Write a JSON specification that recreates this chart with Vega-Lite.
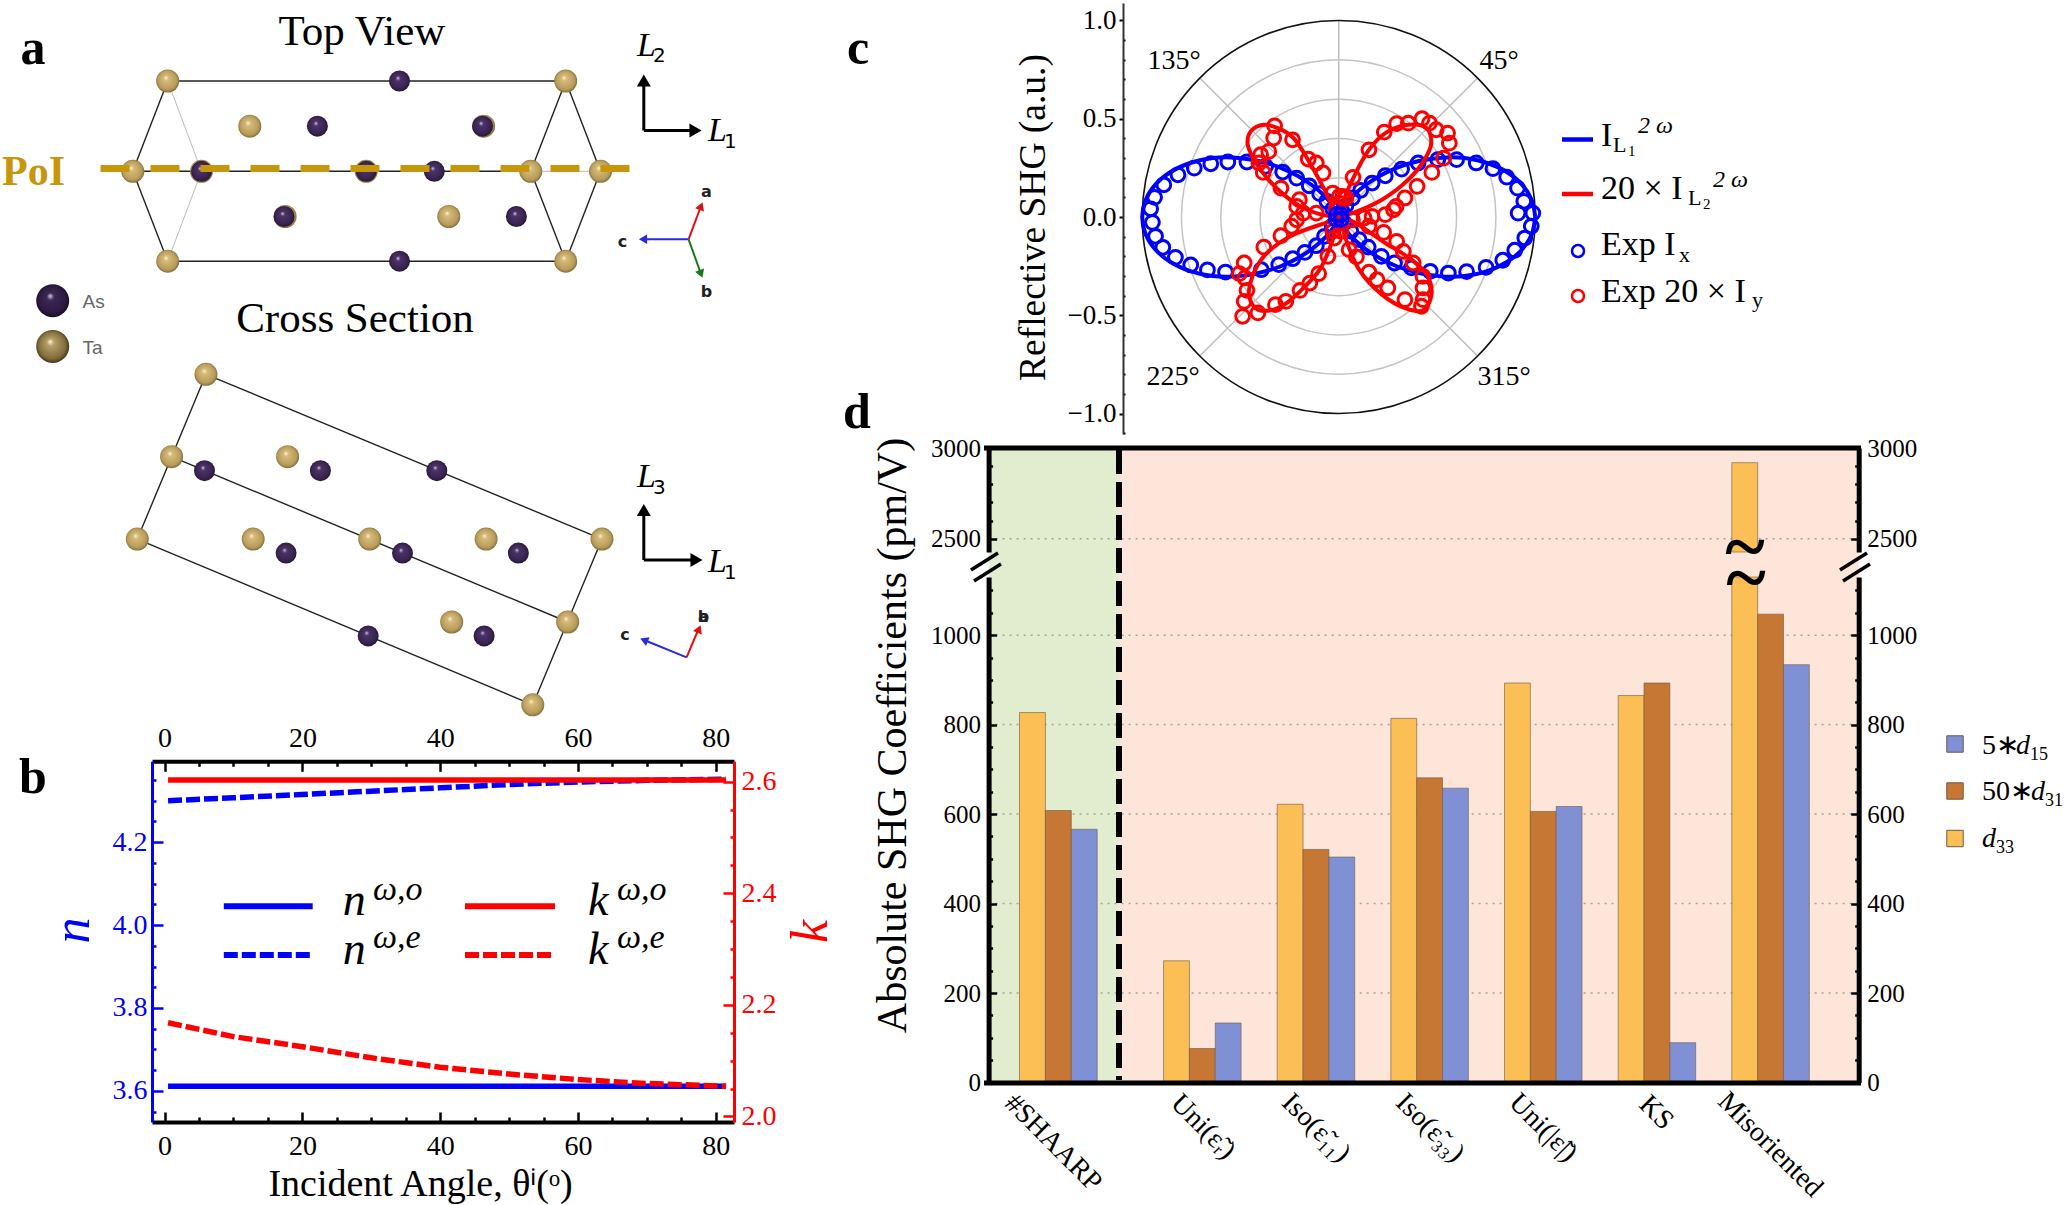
{"$schema":"https://vega.github.io/schema/vega-lite/v6.json","width":2064,"height":1205,"padding":0,"autosize":{"type":"none"},"background":"white",
"config":{"view":{"stroke":null},"axis":{"grid":false,"labelFont":"Liberation Serif","titleFont":"Liberation Serif","titleFontWeight":"normal","labelOverlap":false,"labelBound":false,"labelFlush":false,"labelColor":"black","tickColor":"black","domainColor":"black"},"text":{"font":"Liberation Serif","baseline":"alphabetic"}},
"resolve":{"scale":{"x":"independent","y":"independent","xOffset":"independent"},"axis":{"x":"independent","y":"independent"}},
"layer":[
{"data":{"values":[{"u":98.86,"u2":111.9,"v":44.75,"v2":108.3,"region":"known"},{"u":111.9,"u2":185.87,"v":44.75,"v2":108.3,"region":"theory"}]},
 "mark":{"type":"rect"},
 "encoding":{"x":{"field":"u","type":"quantitative","scale":{"domain":[0,206.4],"range":[0,2064]},"axis":null},"x2":{"field":"u2"},"y":{"field":"v","type":"quantitative","scale":{"domain":[0,120.5],"range":[0,1205]},"axis":null},"y2":{"field":"v2"},"fill":{"field":"region","type":"nominal","scale":{"domain":["known","theory"],"range":["#e2edcf","#fde6d9"]},"legend":null}}},
{"data":{"values":[{"g":200},{"g":400},{"g":600},{"g":800},{"g":1000}]},
 "mark":{"type":"rule","color":"#a9a28f","strokeWidth":1.5,"strokeDash":[2,5]},
 "encoding":{"x":{"datum":0,"type":"quantitative","scale":{"domain":[0,1],"range":[988.6,1858.7]},"axis":null},"x2":{"datum":1},
 "y":{"field":"g","type":"quantitative","scale":{"domain":[0,1130],"range":[1082.5,577]},
 "axis":{"orient":"left","offset":-988.6,"values":[0,50,100,150,200,250,300,350,400,450,500,550,600,650,700,750,800,850,900,950,1000,1050,1100],"labelExpr":"datum.value % 200 === 0 ? datum.label : ''","format":"d","labelFontSize":25,"labelPadding":16,"tickSize":{"condition":{"test":"datum.value % 200 === 0","value":-8},"value":-4},"tickWidth":2.5,"domainWidth":5,"zindex":1,"title":"Absolute SHG Coefficients (pm/V)","titleFontSize":42,"titleX":-96,"titleY":735,"titleAngle":-90,"titleBaseline":"middle"}}}},
{"data":{"values":[{"g":2500}]},
 "mark":{"type":"rule","color":"#a9a28f","strokeWidth":1.5,"strokeDash":[2,5]},
 "encoding":{"x":{"datum":0,"type":"quantitative","scale":{"domain":[0,1],"range":[988.6,1858.7]},"axis":null},"x2":{"datum":1},
 "y":{"field":"g","type":"quantitative","scale":{"domain":[2427,3000],"range":[552,448]},
 "axis":{"orient":"right","offset":-205.3,"values":[2500,2600,2700,2800,2900,3000],"labelExpr":"datum.value % 500 === 0 ? datum.label : ''","format":"d","labelFontSize":25,"labelPadding":16,"tickSize":{"condition":{"test":"datum.value % 500 === 0","value":-8},"value":-4},"tickWidth":2.5,"domainWidth":5,"zindex":1,"title":null}}}},
{"data":{"values":[{"group":"#SHAARP","series":"d33","value":827},{"group":"#SHAARP","series":"50*d31","value":608},{"group":"#SHAARP","series":"5*d15","value":566}]},
 "mark":{"type":"bar","stroke":"#6b5a45","strokeWidth":1,"strokeOpacity":0.6},
 "encoding":{"x":{"field":"group","type":"nominal","scale":{"domain":["#SHAARP"],"range":[1001.4,1115.3],"paddingInner":0.318,"paddingOuter":0.159},"axis":null},
 "xOffset":{"field":"series","type":"nominal","scale":{"domain":["d33","50*d31","5*d15"]}},
 "y":{"field":"value","type":"quantitative","stack":null,"scale":{"domain":[0,1130],"range":[1082.5,577],"clamp":true},"axis":null},
 "color":{"field":"series","type":"nominal","scale":{"domain":["d33","50*d31","5*d15"],"range":["#fcbf55","#c67733","#8090d4"]},"legend":null}}},
{"data":{"values":[{"group":"Uni(εR)","series":"d33","value":272},{"group":"Uni(εR)","series":"50*d31","value":76},{"group":"Uni(εR)","series":"5*d15","value":133},{"group":"Iso(ε11)","series":"d33","value":622},{"group":"Iso(ε11)","series":"50*d31","value":521},{"group":"Iso(ε11)","series":"5*d15","value":504},{"group":"Iso(ε33)","series":"d33","value":814},{"group":"Iso(ε33)","series":"50*d31","value":681},{"group":"Iso(ε33)","series":"5*d15","value":658},{"group":"Uni(|ε|)","series":"d33","value":893},{"group":"Uni(|ε|)","series":"50*d31","value":606},{"group":"Uni(|ε|)","series":"5*d15","value":617},{"group":"KS","series":"d33","value":865},{"group":"KS","series":"50*d31","value":893},{"group":"KS","series":"5*d15","value":89},{"group":"Misoriented","series":"d33","value":2919},{"group":"Misoriented","series":"50*d31","value":1047},{"group":"Misoriented","series":"5*d15","value":934}]},
 "mark":{"type":"bar","stroke":"#6b5a45","strokeWidth":1,"strokeOpacity":0.6},
 "encoding":{"x":{"field":"group","type":"nominal","sort":null,"scale":{"domain":["Uni(εR)","Iso(ε11)","Iso(ε33)","Uni(|ε|)","KS","Misoriented"],"range":[1145.5,1827.4],"paddingInner":0.318,"paddingOuter":0.159},"axis":null},
 "xOffset":{"field":"series","type":"nominal","scale":{"domain":["d33","50*d31","5*d15"]}},
 "y":{"field":"value","type":"quantitative","stack":null,"scale":{"domain":[0,1130],"range":[1082.5,577],"clamp":true},
 "axis":{"orient":"right","offset":-205.3,"values":[0,50,100,150,200,250,300,350,400,450,500,550,600,650,700,750,800,850,900,950,1000,1050,1100],"labelExpr":"datum.value % 200 === 0 ? datum.label : ''","format":"d","labelFontSize":25,"labelPadding":16,"tickSize":{"condition":{"test":"datum.value % 200 === 0","value":-8},"value":-4},"tickWidth":2.5,"domainWidth":5,"zindex":1,"title":null}},
 "color":{"field":"series","type":"nominal","scale":{"domain":["d33","50*d31","5*d15"],"range":["#fcbf55","#c67733","#8090d4"]},"legend":null}}},
{"data":{"values":[{"group":"Misoriented","series":"d33","value":2919}]},
 "mark":{"type":"bar","stroke":"#6b5a45","strokeWidth":1,"strokeOpacity":0.6},
 "encoding":{"x":{"field":"group","type":"nominal","scale":{"domain":["Uni(εR)","Iso(ε11)","Iso(ε33)","Uni(|ε|)","KS","Misoriented"],"range":[1145.5,1827.4],"paddingInner":0.318,"paddingOuter":0.159},"axis":null},
 "xOffset":{"field":"series","type":"nominal","scale":{"domain":["d33","50*d31","5*d15"]}},
 "y":{"field":"value","type":"quantitative","stack":null,"scale":{"domain":[2427,3000],"range":[552,448],"clamp":true},
 "axis":{"orient":"left","offset":-988.6,"values":[2500,2600,2700,2800,2900,3000],"labelExpr":"datum.value % 500 === 0 ? datum.label : ''","format":"d","labelFontSize":25,"labelPadding":16,"tickSize":{"condition":{"test":"datum.value % 500 === 0","value":-8},"value":-4},"tickWidth":2.5,"domainWidth":5,"zindex":1,"title":null}},
 "y2":{"datum":2427},
 "color":{"field":"series","type":"nominal","scale":{"domain":["d33","50*d31","5*d15"],"range":["#fcbf55","#c67733","#8090d4"]},"legend":null}}},
{"data":{"values":[{"angle":0.5,"n":3.611,"comp":"o"},{"angle":81.5,"n":3.611,"comp":"o"},{"angle":0.5,"n":4.3,"comp":"e"},{"angle":10,"n":4.307,"comp":"e"},{"angle":20,"n":4.315,"comp":"e"},{"angle":30,"n":4.323,"comp":"e"},{"angle":40,"n":4.331,"comp":"e"},{"angle":50,"n":4.339,"comp":"e"},{"angle":60,"n":4.345,"comp":"e"},{"angle":70,"n":4.349,"comp":"e"},{"angle":81.5,"n":4.352,"comp":"e"}]},
 "mark":{"type":"line","color":"#0000ff","strokeWidth":5.5},
 "encoding":{"x":{"field":"angle","type":"quantitative","scale":{"domain":[-1.83,82.65],"range":[152,734]},
 "axis":{"orient":"bottom","offset":-83,"values":[0,5,10,15,20,25,30,35,40,45,50,55,60,65,70,75,80],"labelExpr":"datum.value % 20 === 0 ? datum.label : ''","labelFontSize":28,"labelPadding":20,"tickSize":{"condition":{"test":"datum.value % 20 === 0","value":-10},"value":-5},"tickWidth":2.5,"domainWidth":4,"zindex":1,"title":"Incident Angle, θⁱ(ᵒ)","titleFontSize":38,"titleX":420,"titleY":43}},
 "y":{"field":"n","type":"quantitative","scale":{"domain":[3.525,4.395],"range":[1122,761.3]},
 "axis":{"orient":"left","offset":-152,"values":[3.55,3.6,3.65,3.7,3.75,3.8,3.85,3.9,3.95,4,4.05,4.1,4.15,4.2,4.25,4.3,4.35],"format":".1f","labelExpr":"indexof(['3.60','3.80','4.00','4.20'],format(datum.value,'.2f'))>=0 ? datum.label : ''","labelFontSize":28,"labelColor":"#0000ff","labelPadding":16,"tickColor":"#0000ff","domainColor":"#0000ff","tickSize":{"condition":{"test":"indexof(['3.60','3.80','4.00','4.20'],format(datum.value,'.2f'))>=0","value":-11},"value":-4},"tickWidth":2.5,"domainWidth":3,"zindex":1,"title":"n","titleColor":"#0000ff","titleFontStyle":"italic","titleFontSize":52,"titleX":-80,"titleY":930,"titleAngle":-90,"titleBaseline":"middle"}},
 "strokeDash":{"field":"comp","type":"nominal","scale":{"domain":["o","e"],"range":[[1,0],[14,4]]},"legend":null}}},
{"data":{"values":[{"angle":0.5,"k":2.603,"comp":"o"},{"angle":81.5,"k":2.603,"comp":"o"},{"angle":0.5,"k":2.168,"comp":"e"},{"angle":10,"k":2.143,"comp":"e"},{"angle":20,"k":2.125,"comp":"e"},{"angle":30,"k":2.105,"comp":"e"},{"angle":40,"k":2.088,"comp":"e"},{"angle":50,"k":2.076,"comp":"e"},{"angle":60,"k":2.066,"comp":"e"},{"angle":70,"k":2.059,"comp":"e"},{"angle":81.5,"k":2.054,"comp":"e"}]},
 "mark":{"type":"line","color":"#ff0000","strokeWidth":5.5},
 "encoding":{"x":{"field":"angle","type":"quantitative","scale":{"domain":[-1.83,82.65],"range":[152,734]},
 "axis":{"orient":"top","offset":-761.3,"values":[0,5,10,15,20,25,30,35,40,45,50,55,60,65,70,75,80],"labelExpr":"datum.value % 20 === 0 ? datum.label : ''","labelFontSize":28,"labelPadding":19,"tickSize":{"condition":{"test":"datum.value % 20 === 0","value":-10},"value":-5},"tickWidth":2.5,"domainWidth":4,"zindex":1,"title":null}},
 "y":{"field":"k","type":"quantitative","scale":{"domain":[1.99,2.6365],"range":[1122,761.3]},
 "axis":{"orient":"right","offset":-1330,"values":[2,2.05,2.1,2.15,2.2,2.25,2.3,2.35,2.4,2.45,2.5,2.55,2.6],"format":".1f","labelExpr":"indexof(['2.00','2.20','2.40','2.60'],format(datum.value,'.2f'))>=0 ? datum.label : ''","labelFontSize":28,"labelColor":"#ff0000","labelPadding":18,"tickColor":"#ff0000","domainColor":"#ff0000","tickSize":{"condition":{"test":"indexof(['2.00','2.20','2.40','2.60'],format(datum.value,'.2f'))>=0","value":-11},"value":-4},"tickWidth":2.5,"domainWidth":3,"zindex":1,"title":"k","titleColor":"#ff0000","titleFontStyle":"italic","titleFontSize":52,"titleX":76,"titleY":931,"titleAngle":-90,"titleBaseline":"middle"}},
 "strokeDash":{"field":"comp","type":"nominal","scale":{"domain":["o","e"],"range":[[1,0],[14,4]]},"legend":null}}},
{"encoding":{"x":{"field":"x","type":"quantitative","scale":{"domain":[-1,1],"range":[1142.2,1535.2]},"axis":null},
 "y":{"field":"y","type":"quantitative","scale":{"domain":[-1.104,1.089],"range":[434,3]},
 "axis":{"orient":"left","offset":-1123,"values":[-1.1,-1,-0.9,-0.8,-0.7,-0.6,-0.5,-0.4,-0.3,-0.2,-0.1,0,0.1,0.2,0.3,0.4,0.5,0.6,0.7,0.8,0.9,1],"format":".1f","labelExpr":"abs(datum.value*2-round(datum.value*2))<0.001 ? datum.label : ''","labelFontSize":27,"labelPadding":3,"tickSize":{"condition":{"test":"abs(datum.value*2-round(datum.value*2))<0.001","value":4},"value":-2},"tickWidth":2,"domainWidth":2,"domainColor":"#333333","zindex":1,"title":"Reflective SHG (a.u.)","titleFontSize":37.5,"titleX":-90,"titleY":217,"titleAngle":-90,"titleBaseline":"middle"}}},
 "layer":[
 {"data":{"values":[{"x":0,"y":0,"x2":0,"y2":1},{"x":-0.707,"y":-0.707,"x2":0.707,"y2":0.707},{"x":-0.707,"y":0.707,"x2":0.707,"y2":-0.707}]},"mark":{"type":"rule","color":"#bdbdbd","strokeWidth":1.5},"encoding":{"x2":{"field":"x2"},"y2":{"field":"y2"}}},
 {"data":{"values":[{"x":0,"y":0,"r":0.2},{"x":0,"y":0,"r":0.4},{"x":0,"y":0,"r":0.6},{"x":0,"y":0,"r":0.8}]},"mark":{"type":"point","shape":"circle","filled":false,"color":"#c4c4c4","strokeWidth":1.5,"opacity":1},"encoding":{"size":{"field":"r","type":"quantitative","scale":{"type":"pow","exponent":2,"domain":[0,1],"range":[0,154449]},"legend":null}}},
 {"data":{"values":[{"x":0,"y":0,"r":1}]},"mark":{"type":"point","shape":"circle","filled":false,"color":"#111111","strokeWidth":1.6,"opacity":1},"encoding":{"size":{"field":"r","type":"quantitative","scale":{"type":"pow","exponent":2,"domain":[0,1],"range":[0,154449]},"legend":null}}},
 {"data":{"values":[{"i":1,"x":1,"y":0},{"i":2,"x":0.983,"y":0.086},{"i":3,"x":0.933,"y":0.165},{"i":4,"x":0.856,"y":0.229},{"i":5,"x":0.756,"y":0.275},{"i":6,"x":0.642,"y":0.3},{"i":7,"x":0.523,"y":0.302},{"i":8,"x":0.408,"y":0.285},{"i":9,"x":0.301,"y":0.253},{"i":10,"x":0.21,"y":0.21},{"i":11,"x":0.137,"y":0.163},{"i":12,"x":0.082,"y":0.117},{"i":13,"x":0.044,"y":0.077},{"i":14,"x":0.021,"y":0.044},{"i":15,"x":0.008,"y":0.022},{"i":16,"x":0,"y":0},{"i":17,"x":-0.008,"y":0.022},{"i":18,"x":-0.021,"y":0.044},{"i":19,"x":-0.044,"y":0.077},{"i":20,"x":-0.082,"y":0.117},{"i":21,"x":-0.137,"y":0.163},{"i":22,"x":-0.21,"y":0.21},{"i":23,"x":-0.301,"y":0.253},{"i":24,"x":-0.408,"y":0.285},{"i":25,"x":-0.523,"y":0.302},{"i":26,"x":-0.642,"y":0.3},{"i":27,"x":-0.756,"y":0.275},{"i":28,"x":-0.856,"y":0.229},{"i":29,"x":-0.933,"y":0.165},{"i":30,"x":-0.983,"y":0.086},{"i":31,"x":-1,"y":0},{"i":32,"x":-0.983,"y":-0.086},{"i":33,"x":-0.933,"y":-0.165},{"i":34,"x":-0.856,"y":-0.229},{"i":35,"x":-0.756,"y":-0.275},{"i":36,"x":-0.642,"y":-0.3},{"i":37,"x":-0.523,"y":-0.302},{"i":38,"x":-0.408,"y":-0.285},{"i":39,"x":-0.301,"y":-0.253},{"i":40,"x":-0.21,"y":-0.21},{"i":41,"x":-0.137,"y":-0.163},{"i":42,"x":-0.082,"y":-0.117},{"i":43,"x":-0.044,"y":-0.077},{"i":44,"x":-0.021,"y":-0.044},{"i":45,"x":-0.008,"y":-0.022},{"i":46,"x":0,"y":0},{"i":47,"x":0.008,"y":-0.022},{"i":48,"x":0.021,"y":-0.044},{"i":49,"x":0.044,"y":-0.077},{"i":50,"x":0.082,"y":-0.117},{"i":51,"x":0.137,"y":-0.163},{"i":52,"x":0.21,"y":-0.21},{"i":53,"x":0.301,"y":-0.253},{"i":54,"x":0.408,"y":-0.285},{"i":55,"x":0.523,"y":-0.302},{"i":56,"x":0.642,"y":-0.3},{"i":57,"x":0.756,"y":-0.275},{"i":58,"x":0.856,"y":-0.229},{"i":59,"x":0.933,"y":-0.165},{"i":60,"x":0.983,"y":-0.086},{"i":61,"x":1,"y":0}]},"mark":{"type":"line","color":"#0000ff","strokeWidth":4,"interpolate":"catmull-rom"},"encoding":{"order":{"field":"i"}}},
 {"data":{"values":[{"x":0.988,"y":0.02},{"x":0.913,"y":0.02},{"x":0.942,"y":0.08},{"x":0.91,"y":0.147},{"x":0.855,"y":0.203},{"x":0.785,"y":0.246},{"x":0.7,"y":0.275},{"x":0.6,"y":0.292},{"x":0.504,"y":0.292},{"x":0.404,"y":0.275},{"x":0.32,"y":0.244},{"x":0.237,"y":0.21},{"x":0.17,"y":0.173},{"x":0.112,"y":0.136},{"x":0.07,"y":0.097},{"x":0.037,"y":0.058},{"x":0.017,"y":0.029},{"x":0.98,"y":-0.047},{"x":0.947,"y":-0.107},{"x":0.896,"y":-0.169},{"x":0.835,"y":-0.22},{"x":0.75,"y":-0.256},{"x":0.651,"y":-0.278},{"x":0.558,"y":-0.285},{"x":0.466,"y":-0.276},{"x":0.37,"y":-0.259},{"x":0.284,"y":-0.234},{"x":0.217,"y":-0.2},{"x":0.15,"y":-0.153},{"x":0.104,"y":-0.115},{"x":0.062,"y":-0.073},{"x":0.028,"y":-0.03},{"x":-0.957,"y":0.042},{"x":-0.937,"y":0.1},{"x":-0.89,"y":0.164},{"x":-0.818,"y":0.215},{"x":-0.735,"y":0.249},{"x":-0.651,"y":0.271},{"x":-0.564,"y":0.28},{"x":-0.467,"y":0.28},{"x":-0.372,"y":0.258},{"x":-0.285,"y":0.229},{"x":-0.214,"y":0.198},{"x":-0.15,"y":0.159},{"x":-0.097,"y":0.119},{"x":-0.06,"y":0.08},{"x":-0.03,"y":0.04},{"x":-0.948,"y":-0.027},{"x":-0.932,"y":-0.098},{"x":-0.895,"y":-0.154},{"x":-0.831,"y":-0.205},{"x":-0.753,"y":-0.244},{"x":-0.668,"y":-0.269},{"x":-0.576,"y":-0.28},{"x":-0.394,"y":-0.268},{"x":-0.305,"y":-0.242},{"x":-0.234,"y":-0.212},{"x":-0.172,"y":-0.18},{"x":-0.114,"y":-0.146},{"x":-0.072,"y":-0.098},{"x":-0.033,"y":-0.047}]},"mark":{"type":"point","shape":"circle","filled":false,"color":"#0000ff","size":190,"strokeWidth":3,"opacity":1}},
 {"data":{"values":[{"i":1,"x":0,"y":0},{"i":2,"x":0.07,"y":0.02},{"i":3,"x":0.22,"y":0.088},{"i":4,"x":0.354,"y":0.19},{"i":5,"x":0.437,"y":0.292},{"i":6,"x":0.471,"y":0.376},{"i":7,"x":0.446,"y":0.453},{"i":8,"x":0.354,"y":0.469},{"i":9,"x":0.237,"y":0.427},{"i":10,"x":0.154,"y":0.342},{"i":11,"x":0.07,"y":0.19},{"i":12,"x":0.02,"y":0.071},{"i":13,"x":0,"y":0},{"i":14,"x":-0.063,"y":0.122},{"i":15,"x":-0.147,"y":0.275},{"i":16,"x":-0.23,"y":0.402},{"i":17,"x":-0.297,"y":0.447},{"i":18,"x":-0.381,"y":0.469},{"i":19,"x":-0.447,"y":0.436},{"i":20,"x":-0.464,"y":0.376},{"i":21,"x":-0.431,"y":0.292},{"i":22,"x":-0.364,"y":0.198},{"i":23,"x":-0.28,"y":0.114},{"i":24,"x":-0.18,"y":0.046},{"i":25,"x":-0.063,"y":0.007},{"i":26,"x":0,"y":0},{"i":27,"x":-0.047,"y":-0.022},{"i":28,"x":-0.247,"y":-0.098},{"i":29,"x":-0.381,"y":-0.2},{"i":30,"x":-0.439,"y":-0.302},{"i":31,"x":-0.456,"y":-0.403},{"i":32,"x":-0.414,"y":-0.471},{"i":33,"x":-0.331,"y":-0.471},{"i":34,"x":-0.264,"y":-0.437},{"i":35,"x":-0.197,"y":-0.378},{"i":36,"x":-0.097,"y":-0.268},{"i":37,"x":-0.03,"y":-0.115},{"i":38,"x":0,"y":0},{"i":39,"x":0.037,"y":-0.115},{"i":40,"x":0.104,"y":-0.268},{"i":41,"x":0.22,"y":-0.395},{"i":42,"x":0.337,"y":-0.463},{"i":43,"x":0.429,"y":-0.475},{"i":44,"x":0.471,"y":-0.403},{"i":45,"x":0.454,"y":-0.302},{"i":46,"x":0.371,"y":-0.217},{"i":47,"x":0.237,"y":-0.132},{"i":48,"x":0.07,"y":-0.022},{"i":49,"x":0,"y":0}]},"mark":{"type":"line","color":"#ff0000","strokeWidth":4,"interpolate":"catmull-rom"},"encoding":{"order":{"field":"i"}}},
 {"data":{"values":[{"x":0.424,"y":0.5},{"x":0.462,"y":0.478},{"x":0.496,"y":0.444},{"x":0.554,"y":0.427},{"x":0.563,"y":0.376},{"x":0.534,"y":0.3},{"x":0.474,"y":0.227},{"x":0.399,"y":0.156},{"x":0.337,"y":0.097},{"x":0.292,"y":0.054},{"x":0.237,"y":0.012},{"x":0.232,"y":0.432},{"x":0.295,"y":0.475},{"x":0.354,"y":0.478},{"x":0.154,"y":0.342},{"x":0.073,"y":0.202},{"x":0.003,"y":0.105},{"x":0.003,"y":0.071},{"x":-0.013,"y":0.037},{"x":-0.03,"y":0.122},{"x":0.02,"y":0.105},{"x":0.037,"y":0.097},{"x":-0.326,"y":0.464},{"x":-0.331,"y":0.402},{"x":-0.235,"y":0.393},{"x":-0.155,"y":0.295},{"x":-0.114,"y":0.275},{"x":-0.08,"y":0.224},{"x":-0.356,"y":0.334},{"x":-0.397,"y":0.317},{"x":-0.406,"y":0.275},{"x":-0.384,"y":0.227},{"x":-0.294,"y":0.147},{"x":-0.2,"y":0.088},{"x":-0.214,"y":0.054},{"x":-0.18,"y":0.02},{"x":-0.114,"y":0.02},{"x":-0.381,"y":-0.153},{"x":-0.294,"y":-0.095},{"x":-0.239,"y":-0.047},{"x":-0.214,"y":-0.014},{"x":-0.481,"y":-0.234},{"x":-0.506,"y":-0.288},{"x":-0.477,"y":-0.31},{"x":-0.467,"y":-0.373},{"x":-0.481,"y":-0.429},{"x":-0.489,"y":-0.505},{"x":-0.411,"y":-0.488},{"x":-0.322,"y":-0.446},{"x":-0.269,"y":-0.429},{"x":-0.197,"y":-0.373},{"x":-0.147,"y":-0.336},{"x":-0.102,"y":-0.288},{"x":-0.055,"y":-0.2},{"x":-0.022,"y":-0.107},{"x":0.012,"y":-0.073},{"x":-0.03,"y":-0.073},{"x":0.053,"y":-0.166},{"x":0.09,"y":-0.203},{"x":0.154,"y":-0.281},{"x":0.195,"y":-0.319},{"x":0.25,"y":-0.361},{"x":0.337,"y":-0.42},{"x":0.421,"y":-0.454},{"x":0.429,"y":-0.42},{"x":0.429,"y":-0.361},{"x":0.429,"y":-0.302},{"x":0.379,"y":-0.234},{"x":0.329,"y":-0.175},{"x":0.295,"y":-0.124},{"x":0.229,"y":-0.078},{"x":0.154,"y":-0.047},{"x":0.129,"y":-0.005},{"x":0.17,"y":0.003},{"x":0.279,"y":0.037},{"x":0.07,"y":-0.014}]},"mark":{"type":"point","shape":"circle","filled":false,"color":"#ff0000","size":190,"strokeWidth":3,"opacity":1}},
 {"data":{"values":[{"x":0.012,"y":0.012},{"x":-0.012,"y":0.012},{"x":-0.012,"y":-0.012},{"x":0.012,"y":-0.012}]},"mark":{"type":"point","shape":"circle","filled":false,"color":"#0000ff","size":190,"strokeWidth":3,"opacity":1}}
 ]},
{"encoding":{"x":{"field":"u","type":"quantitative","scale":{"domain":[0,206.4],"range":[0,2064]},"axis":null},"y":{"field":"v","type":"quantitative","scale":{"domain":[0,120.5],"range":[0,1205]},"axis":null}},
 "layer":[
 {"data":{"values":[{"u":16.77,"v":8.1,"u2":56.57,"v2":8.1},{"u":16.77,"v":26.12,"u2":56.57,"v2":26.12},{"u":13.28,"v":17.13,"u2":53.08,"v2":17.13},{"u":16.77,"v":8.1,"u2":13.28,"v2":17.13},{"u":13.28,"v":17.13,"u2":16.77,"v2":26.12},{"u":56.57,"v":8.1,"u2":53.08,"v2":17.13},{"u":53.08,"v":17.13,"u2":56.57,"v2":26.12},{"u":56.57,"v":8.1,"u2":60.05,"v2":17.13},{"u":60.05,"v":17.13,"u2":56.57,"v2":26.12},{"u":20.6,"v":37.43,"u2":60.2,"v2":53.91},{"u":17.16,"v":45.67,"u2":56.77,"v2":62.2},{"u":13.73,"v":53.91,"u2":53.28,"v2":70.48},{"u":20.6,"v":37.43,"u2":13.73,"v2":53.91},{"u":60.2,"v":53.91,"u2":53.28,"v2":70.48}]},"mark":{"type":"rule","color":"#222222","strokeWidth":1.4},"encoding":{"x2":{"field":"u2"},"y2":{"field":"v2"}}},
 {"data":{"values":[{"u":16.77,"v":8.1,"u2":20.15,"v2":17.13},{"u":20.15,"v":17.13,"u2":16.77,"v2":26.12},{"u":53.08,"v":17.13,"u2":60.05,"v2":17.13}]},"mark":{"type":"rule","color":"#bbbbbb","strokeWidth":1},"encoding":{"x2":{"field":"u2"},"y2":{"field":"v2"}}},
 {"data":{"values":[{"u":16.77,"v":8.1},{"u":56.57,"v":8.1},{"u":24.98,"v":12.62},{"u":48.36,"v":12.62},{"u":13.28,"v":17.13},{"u":53.08,"v":17.13},{"u":60.05,"v":17.13},{"u":36.62,"v":17.13},{"u":20.15,"v":17.13},{"u":28.51,"v":21.65},{"u":44.88,"v":21.65},{"u":16.77,"v":26.12},{"u":56.57,"v":26.12},{"u":20.6,"v":37.43},{"u":17.16,"v":45.67},{"u":28.76,"v":45.67},{"u":13.73,"v":53.91},{"u":25.32,"v":53.91},{"u":36.97,"v":53.91},{"u":48.61,"v":53.91},{"u":60.2,"v":53.91},{"u":56.77,"v":62.2},{"u":45.17,"v":62.2},{"u":53.28,"v":70.48}]},"mark":{"type":"point","shape":"circle","filled":true,"opacity":1,"size":529,"strokeWidth":0,"fill":{"gradient":"radial","x1":0.42,"y1":0.35,"r1":0,"x2":0.5,"y2":0.5,"r2":0.55,"stops":[{"offset":0,"color":"#fff8e0"},{"offset":0.2,"color":"#d6bb78"},{"offset":0.75,"color":"#b79b5c"},{"offset":1,"color":"#6f5a2a"}]}}},
 {"data":{"values":[{"u":39.95,"v":8.1},{"u":31.74,"v":12.62},{"u":48.26,"v":12.62},{"u":20.15,"v":17.13},{"u":36.62,"v":17.13},{"u":43.43,"v":17.13},{"u":28.41,"v":21.65},{"u":51.64,"v":21.65},{"u":39.95,"v":26.12},{"u":20.45,"v":47.07},{"u":32.04,"v":47.07},{"u":43.68,"v":47.07},{"u":28.61,"v":55.31},{"u":40.25,"v":55.31},{"u":51.84,"v":55.31},{"u":36.82,"v":63.59},{"u":48.41,"v":63.59}]},"mark":{"type":"point","shape":"circle","filled":true,"opacity":1,"size":441,"strokeWidth":0,"fill":{"gradient":"radial","x1":0.42,"y1":0.35,"r1":0,"x2":0.5,"y2":0.5,"r2":0.55,"stops":[{"offset":0,"color":"#d9cfe6"},{"offset":0.2,"color":"#4a3468"},{"offset":0.75,"color":"#38234f"},{"offset":1,"color":"#1c0f2c"}]}}},
 {"data":{"values":[{"u":5.27,"v":30.07}]},"mark":{"type":"point","shape":"circle","filled":true,"opacity":1,"size":1089,"strokeWidth":0,"fill":{"gradient":"radial","x1":0.42,"y1":0.35,"r1":0,"x2":0.5,"y2":0.5,"r2":0.55,"stops":[{"offset":0,"color":"#d9cfe6"},{"offset":0.2,"color":"#3c2855"},{"offset":0.75,"color":"#2c1a40"},{"offset":1,"color":"#120818"}]}}},
 {"data":{"values":[{"u":5.27,"v":34.64}]},"mark":{"type":"point","shape":"circle","filled":true,"opacity":1,"size":1089,"strokeWidth":0,"fill":{"gradient":"radial","x1":0.42,"y1":0.35,"r1":0,"x2":0.5,"y2":0.5,"r2":0.55,"stops":[{"offset":0,"color":"#fff8e0"},{"offset":0.2,"color":"#b79f66"},{"offset":0.75,"color":"#806c3c"},{"offset":1,"color":"#2a2210"}]}}},
 {"data":{"values":[{"u":10.05,"v":16.85,"u2":63.2}]},"mark":{"type":"rule","color":"#c8960a","strokeWidth":7,"strokeDash":[29,21]},"encoding":{"x2":{"field":"u2"}}},
 {"data":{"values":[{"u":64.38,"v":13.04,"u2":64.38,"v2":8.0},{"u":64.38,"v":13.04,"u2":69.6,"v2":13.04},{"u":64.38,"v":56,"u2":64.38,"v2":51},{"u":64.38,"v":56,"u2":69.7,"v2":56}]},"mark":{"type":"rule","color":"black","strokeWidth":3},"encoding":{"x2":{"field":"u2"},"y2":{"field":"v2"}}},
 {"data":{"values":[{"u":64.38,"v":8.05},{"u":64.38,"v":51}]},"mark":{"type":"point","shape":"triangle-up","filled":true,"color":"black","opacity":1,"size":196}},
 {"data":{"values":[{"u":69.55,"v":13.04},{"u":69.65,"v":56}]},"mark":{"type":"point","shape":"triangle-right","filled":true,"color":"black","opacity":1,"size":196}},
 {"data":{"values":[{"u":68.86,"v":23.93,"u2":70.1,"v2":20.6},{"u":68.66,"v":65.74,"u2":69.9,"v2":62.8}]},"mark":{"type":"rule","color":"#e01010","strokeWidth":2},"encoding":{"x2":{"field":"u2"},"y2":{"field":"v2"}}},
 {"data":{"values":[{"u":68.86,"v":23.93,"u2":64.2,"v2":23.93},{"u":68.66,"v":65.74,"u2":64.4,"v2":64.0}]},"mark":{"type":"rule","color":"#2a2ae0","strokeWidth":2},"encoding":{"x2":{"field":"u2"},"y2":{"field":"v2"}}},
 {"data":{"values":[{"u":68.86,"v":23.93,"u2":70.1,"v2":27.4}]},"mark":{"type":"rule","color":"#1a7a1a","strokeWidth":2},"encoding":{"x2":{"field":"u2"},"y2":{"field":"v2"}}},
 {"data":{"values":[{"u":70.1,"v":20.6,"heading":20},{"u":69.9,"v":62.9,"heading":22}]},"mark":{"type":"point","shape":"triangle-up","filled":true,"color":"#e01010","opacity":1,"size":90},"encoding":{"angle":{"field":"heading","type":"quantitative","scale":null}}},
 {"data":{"values":[{"u":64.3,"v":23.93,"heading":270},{"u":64.4,"v":64.0,"heading":292}]},"mark":{"type":"point","shape":"triangle-up","filled":true,"color":"#2a2ae0","opacity":1,"size":90},"encoding":{"angle":{"field":"heading","type":"quantitative","scale":null}}},
 {"data":{"values":[{"u":70.1,"v":27.4,"heading":160}]},"mark":{"type":"point","shape":"triangle-up","filled":true,"color":"#1a7a1a","opacity":1,"size":90},"encoding":{"angle":{"field":"heading","type":"quantitative","scale":null}}},
 {"data":{"values":[{"u":70.65,"v":19.74,"t":"a"},{"u":62.24,"v":24.67,"t":"c"},{"u":70.65,"v":29.65,"t":"b"},{"u":70.35,"v":62.2,"t":"a"},{"u":70.35,"v":62.2,"t":"b"},{"u":62.5,"v":64,"t":"c"}]},"mark":{"type":"text","font":"DejaVu Sans","fontWeight":"bold","fontSize":16,"align":"center","color":"#222222"},"encoding":{"text":{"field":"t"}}},
 {"data":{"values":[{"u":8.26,"v":30.8,"t":"As"},{"u":8.26,"v":35.38,"t":"Ta"}]},"mark":{"type":"text","font":"Liberation Sans","fontSize":19,"align":"left","color":"#666666"},"encoding":{"text":{"field":"t"}}},
 {"data":{"values":[{"u":36.2,"v":4.5,"t":"Top View"},{"u":35.5,"v":33.2,"t":"Cross Section"}]},"mark":{"type":"text","fontSize":43,"align":"center","color":"black"},"encoding":{"text":{"field":"t"}}},
 {"data":{"values":[{"u":3.3,"v":6.4,"t":"a"},{"u":3.3,"v":79.3,"t":"b"},{"u":85.8,"v":6.4,"t":"c"},{"u":85.7,"v":42.8,"t":"d"}]},"mark":{"type":"text","fontSize":50,"fontWeight":"bold","align":"center","color":"black"},"encoding":{"text":{"field":"t"}}},
 {"data":{"values":[{"u":0.2,"v":18.5,"t":"PoI"}]},"mark":{"type":"text","fontSize":42,"fontWeight":"bold","align":"left","color":"#c8960a"},"encoding":{"text":{"field":"t"}}},
 {"data":{"values":[{"u":63.7,"v":5.6,"t":"L"},{"u":70.8,"v":14.1,"t":"L"},{"u":63.7,"v":48.65,"t":"L"},{"u":70.8,"v":57.17,"t":"L"}]},"mark":{"type":"text","fontSize":34,"fontStyle":"italic","align":"left","color":"black"},"encoding":{"text":{"field":"t"}}},
 {"data":{"values":[{"u":65.3,"v":6.2,"t":"2"},{"u":72.4,"v":14.8,"t":"1"},{"u":65.3,"v":49.35,"t":"3"},{"u":72.4,"v":57.87,"t":"1"}]},"mark":{"type":"text","font":"DejaVu Sans","fontSize":20,"align":"left","color":"black"},"encoding":{"text":{"field":"t"}}},
 {"data":{"values":[{"u":22.38,"v":90.63,"u2":31.27}]},"mark":{"type":"rule","color":"#0000ff","strokeWidth":6},"encoding":{"x2":{"field":"u2"}}},
 {"data":{"values":[{"u":22.38,"v":95.5,"u2":31.27}]},"mark":{"type":"rule","color":"#0000ff","strokeWidth":6,"strokeDash":[14,4]},"encoding":{"x2":{"field":"u2"}}},
 {"data":{"values":[{"u":46.5,"v":90.63,"u2":55.5}]},"mark":{"type":"rule","color":"#ff0000","strokeWidth":6},"encoding":{"x2":{"field":"u2"}}},
 {"data":{"values":[{"u":46.5,"v":95.5,"u2":55.5}]},"mark":{"type":"rule","color":"#ff0000","strokeWidth":6,"strokeDash":[14,4]},"encoding":{"x2":{"field":"u2"}}},
 {"data":{"values":[{"u":34.28,"v":91.5,"t":"n"},{"u":34.28,"v":96.43,"t":"n"},{"u":58.8,"v":91.5,"t":"k"},{"u":58.8,"v":96.43,"t":"k"}]},"mark":{"type":"text","fontSize":46,"fontStyle":"italic","align":"left","color":"black"},"encoding":{"text":{"field":"t"}}},
 {"data":{"values":[{"u":37.3,"v":90,"t":"ω,o"},{"u":37.3,"v":94.83,"t":"ω,e"},{"u":61.7,"v":90,"t":"ω,o"},{"u":61.7,"v":94.83,"t":"ω,e"}]},"mark":{"type":"text","fontSize":34,"fontStyle":"italic","align":"left","color":"black"},"encoding":{"text":{"field":"t"}}},
 {"data":{"values":[{"u":117.4,"v":6.9,"t":"135°"},{"u":149.9,"v":6.9,"t":"45°"},{"u":117.3,"v":38.5,"t":"225°"},{"u":150.4,"v":38.5,"t":"315°"}]},"mark":{"type":"text","fontSize":28,"align":"center","color":"black"},"encoding":{"text":{"field":"t"}}},
 {"data":{"values":[{"u":156.2,"v":13.95,"u2":159.3}]},"mark":{"type":"rule","color":"#0000ff","strokeWidth":4.5},"encoding":{"x2":{"field":"u2"}}},
 {"data":{"values":[{"u":156.2,"v":19.4,"u2":159.3}]},"mark":{"type":"rule","color":"#ff0000","strokeWidth":4.5},"encoding":{"x2":{"field":"u2"}}},
 {"data":{"values":[{"u":157.8,"v":25.1}]},"mark":{"type":"point","shape":"circle","filled":false,"color":"#0000ff","size":144,"strokeWidth":2.5,"opacity":1}},
 {"data":{"values":[{"u":157.8,"v":29.6}]},"mark":{"type":"point","shape":"circle","filled":false,"color":"#ff0000","size":144,"strokeWidth":2.5,"opacity":1}},
 {"data":{"values":[{"u":160.1,"v":14.6,"t":"I"},{"u":160.1,"v":19.9,"t":"20 × I"},{"u":160.1,"v":25.5,"t":"Exp I"},{"u":160.1,"v":30.2,"t":"Exp 20 × I"}]},"mark":{"type":"text","fontSize":34,"align":"left","color":"black"},"encoding":{"text":{"field":"t"}}},
 {"data":{"values":[{"u":161.3,"v":15.2,"t":"L"},{"u":168.8,"v":20.5,"t":"L"},{"u":167.9,"v":26.2,"t":"x"},{"u":175.2,"v":30.7,"t":"y"}]},"mark":{"type":"text","fontSize":22,"align":"left","color":"black"},"encoding":{"text":{"field":"t"}}},
 {"data":{"values":[{"u":162.8,"v":15.6,"t":"1"},{"u":170.3,"v":20.9,"t":"2"}]},"mark":{"type":"text","fontSize":15,"align":"left","color":"black"},"encoding":{"text":{"field":"t"}}},
 {"data":{"values":[{"u":163.8,"v":13.3,"t":"2 ω"},{"u":171.3,"v":18.7,"t":"2 ω"}]},"mark":{"type":"text","fontSize":24,"fontStyle":"italic","align":"left","color":"black"},"encoding":{"text":{"field":"t"}}},
 {"data":{"values":[{"u":111.9,"v":44.9,"u2":111.9,"v2":108}]},"mark":{"type":"rule","color":"black","strokeWidth":6,"strokeDash":[25,8]},"encoding":{"x2":{"field":"u2"},"y2":{"field":"v2"}}},
 {"data":{"values":[{"u":98.4,"v":44.8,"u2":186.1,"v2":44.8},{"u":98.4,"v":108.3,"u2":186.1,"v2":108.3}]},"mark":{"type":"rule","color":"black","strokeWidth":5},"encoding":{"x2":{"field":"u2"},"y2":{"field":"v2"}}},
 {"data":{"values":[{"u":97.1,"v":57,"u2":99.8,"v2":55.3},{"u":97.4,"v":58.1,"u2":100.1,"v2":56.4},{"u":184,"v":57,"u2":186.7,"v2":55.3},{"u":184.3,"v":58.1,"u2":187,"v2":56.4}]},"mark":{"type":"rule","color":"black","strokeWidth":3.5},"encoding":{"x2":{"field":"u2"},"y2":{"field":"v2"}}},
 {"data":{"values":[{"u":174.5,"v":54.9,"t":"~"},{"u":174.6,"v":58,"t":"~"}]},"mark":{"type":"text","fontSize":76,"fontWeight":"bold","align":"center","baseline":"middle","color":"black"},"encoding":{"text":{"field":"t"}}},
 {"data":{"values":[{"u":105.3,"v":114.3,"t":"#SHAARP"},{"u":120.3,"v":112.7,"t":"Uni(ε̃ᵣ)"},{"u":131.6,"v":112.8,"t":"Iso(ε̃₁₁)"},{"u":143,"v":112.8,"t":"Iso(ε̃₃₃)"},{"u":154.3,"v":112.8,"t":"Uni(|ε̃|)"},{"u":165.6,"v":111.3,"t":"KS"},{"u":177,"v":114.5,"t":"Misoriented"}]},"mark":{"type":"text","fontSize":28,"angle":45,"align":"center","baseline":"middle","color":"black"},"encoding":{"text":{"field":"t"}}},
 {"data":{"values":[{"u":195.5,"v":74.4,"series":"5*d15"},{"u":195.5,"v":79.1,"series":"50*d31"},{"u":195.5,"v":83.85,"series":"d33"}]},"mark":{"type":"point","shape":"square","filled":true,"size":270,"opacity":1,"stroke":"#6b5a45","strokeWidth":1},"encoding":{"color":{"field":"series","type":"nominal","scale":{"domain":["d33","50*d31","5*d15"],"range":["#fcbf55","#c67733","#8090d4"]},"legend":null}}},
 {"data":{"values":[{"u":198.2,"v":75.4,"t":"5∗"},{"u":198.2,"v":80,"t":"50∗"}]},"mark":{"type":"text","fontSize":28,"align":"left","color":"black"},"encoding":{"text":{"field":"t"}}},
 {"data":{"values":[{"u":201.6,"v":75.4,"t":"d"},{"u":203.1,"v":80,"t":"d"},{"u":198.2,"v":84.7,"t":"d"}]},"mark":{"type":"text","fontSize":28,"fontStyle":"italic","align":"left","color":"black"},"encoding":{"text":{"field":"t"}}},
 {"data":{"values":[{"u":203,"v":76,"t":"15"},{"u":204.5,"v":80.6,"t":"31"},{"u":199.6,"v":85.3,"t":"33"}]},"mark":{"type":"text","fontSize":18,"align":"left","color":"black"},"encoding":{"text":{"field":"t"}}}
 ]}
]}
